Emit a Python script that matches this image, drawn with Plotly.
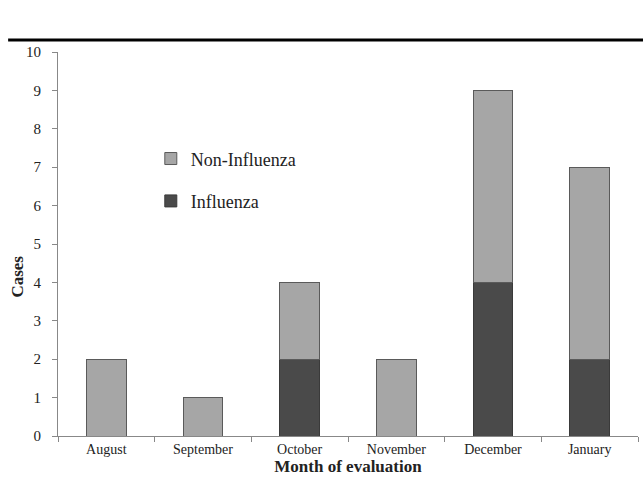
import plotly.graph_objects as go

months = ["August", "September", "October", "November", "December", "January"]
influenza = [0, 0, 2, 0, 4, 2]
non_influenza = [2, 1, 2, 2, 5, 5]
y_ticks = list(range(0, 11))

FONT = "Liberation Serif"

fig = go.Figure()
fig.add_trace(go.Bar(
    x=months, y=influenza, name="Influenza",
    marker=dict(color="#4a4a4a", line=dict(color="#3a3a3a", width=1)),
    width=0.41, legendgroup="a", legendrank=2,
))
fig.add_trace(go.Bar(
    x=months, y=non_influenza, name="Non-Influenza",
    marker=dict(color="#a6a6a6", line=dict(color="#5a5a5a", width=1)),
    width=0.41, legendgroup="b", legendrank=1,
))

fig.update_layout(
    barmode="stack",
    width=643, height=502,
    margin=dict(l=58, r=5, t=52, b=66),
    plot_bgcolor="white", paper_bgcolor="white",
    font=dict(family=FONT, color="#222", size=12),
    showlegend=True,
    legend=dict(
        x=0.16, y=0.77, xanchor="left", yanchor="top",
        traceorder="grouped", tracegroupgap=16,
        font=dict(size=18, family=FONT, color="#222"),
        itemwidth=30, bgcolor="rgba(0,0,0,0)",
    ),
    xaxis=dict(
        type="category", tickson="boundaries",
        ticks="outside", ticklen=5, tickcolor="#888",
        showline=True, linecolor="#888", linewidth=1,
        tickfont=dict(size=14, family=FONT),
        title=dict(text="<b>Month of evaluation</b>", font=dict(size=17, family=FONT), standoff=0),
        showgrid=False,
    ),
    yaxis=dict(
        range=[0, 10], tickvals=y_ticks,
        ticks="outside", ticklen=5, tickcolor="#888",
        ticklabelstandoff=8,
        showline=True, linecolor="#888", linewidth=1,
        tickfont=dict(size=15, family=FONT),
        showgrid=False, zeroline=False,
    ),
    annotations=[dict(
        text="<b>Cases</b>", xref="paper", yref="paper",
        x=-0.069, y=0.415, xanchor="center", yanchor="middle",
        textangle=-90, showarrow=False,
        font=dict(size=17, family=FONT, color="#222"),
    )],
    shapes=[dict(
        type="line", xref="paper", yref="paper",
        x0=-0.086, x1=1.01, y0=1.031, y1=1.031,
        line=dict(color="black", width=3),
    )],
)

fig.write_html(
    "out.html",
    config={"displayModeBar": False},
    post_script="document.body.style.margin='0';document.body.style.overflow='hidden';",
)
